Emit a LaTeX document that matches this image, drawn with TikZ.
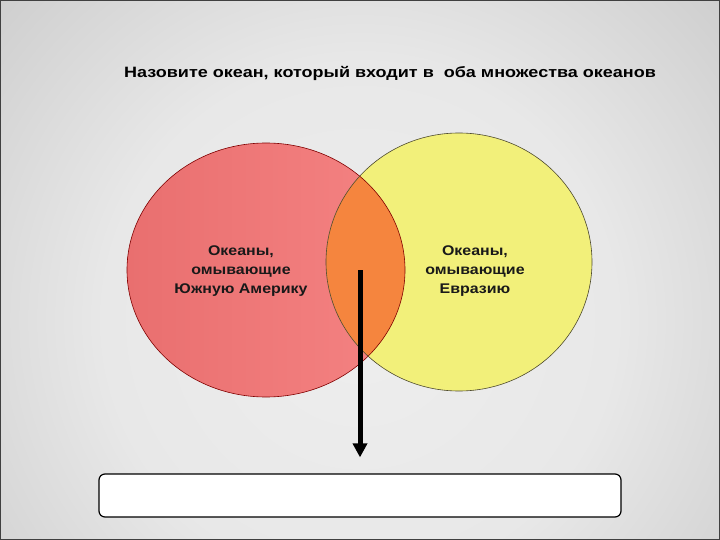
\documentclass[tikz,border=0pt]{standalone}
\usepackage{fontspec}
\setmainfont{Liberation Sans}
\newfontfamily\titlefont[FakeStretch=1.2]{Liberation Sans}
\newfontfamily\labelfont[FakeStretch=1.14]{Liberation Sans}
\usetikzlibrary{arrows.meta,shapes.geometric}
\definecolor{bg0}{HTML}{EEEEEE}
\definecolor{bg1}{HTML}{E8E8E8}
\definecolor{bg2}{HTML}{CFCFCF}
\definecolor{bg3}{HTML}{B8B8B8}
\definecolor{bg4}{HTML}{A8A8A8}
\definecolor{bg5}{HTML}{989898}
\definecolor{bg6}{HTML}{959595}
\definecolor{redL}{HTML}{E96F6F}
\definecolor{redR}{HTML}{F58383}
\definecolor{yelF}{HTML}{F2F07A}
\definecolor{oraF}{HTML}{F5853E}
\pgfdeclareradialshading{bgshade}{\pgfpoint{0bp}{0bp}}{color(0bp)=(bg0); color(16bp)=(bg1); color(30bp)=(bg2); color(40bp)=(bg3); color(46bp)=(bg4); color(60bp)=(bg5); color(71bp)=(bg6)}
\tikzset{
  settext/.style={font=\labelfont\bfseries\fontsize{14}{19}\selectfont, align=center, text=black!90, inner sep=0pt},
  setbody/.style={ellipse, inner sep=0pt},
}
\begin{document}
\begin{tikzpicture}[x=1pt,y=-1pt]
\useasboundingbox (0,0) rectangle (720,540);
\begin{scope}
  \clip (0,0) rectangle (720,540);
  \shade[shading=bgshade] (-40,-80) rectangle (760,720);
\end{scope}
% sets
\node[setbody, minimum width=278pt, minimum height=254pt, left color=redL, right color=redR] (sa) at (266,270) {};
\node[setbody, minimum width=266pt, minimum height=258pt, fill=yelF] (eu) at (459,262) {};
\begin{scope}
  \clip (266,270) ellipse [x radius=139pt, y radius=127pt];
  \fill[oraF] (459,262) ellipse [x radius=133pt, y radius=129pt];
\end{scope}
\draw[line width=0.6pt, red!50!black] (sa.center) ellipse [x radius=139pt, y radius=127pt];
\draw[line width=0.6pt, black!60!olive] (eu.center) ellipse [x radius=133pt, y radius=129pt];
% title
\node[font=\titlefont\bfseries\fontsize{15}{18}\selectfont, inner sep=0pt] (title) at (390,73) {Назовите океан, который входит в\ \ оба множества океанов};
% labels
\node[settext] (tsa) at (241,271) {Океаны,\\омывающие\\Южную Америку};
\node[settext] (teu) at (475,271) {Океаны,\\омывающие\\Евразию};
% answer box
\node[draw=black, line width=1.2pt, fill=white, rounded corners=6pt, minimum width=522pt, minimum height=43pt, inner sep=0pt] (box) at (360,495.5) {};
\coordinate (start) at (360,270);
\draw[line width=5pt, -{Triangle[length=14pt,width=14pt]}] (start) -- ([yshift=16pt]box.north);
\draw[line width=2pt, black!75] (0,0) rectangle (720,540);
\end{tikzpicture}
\end{document}
